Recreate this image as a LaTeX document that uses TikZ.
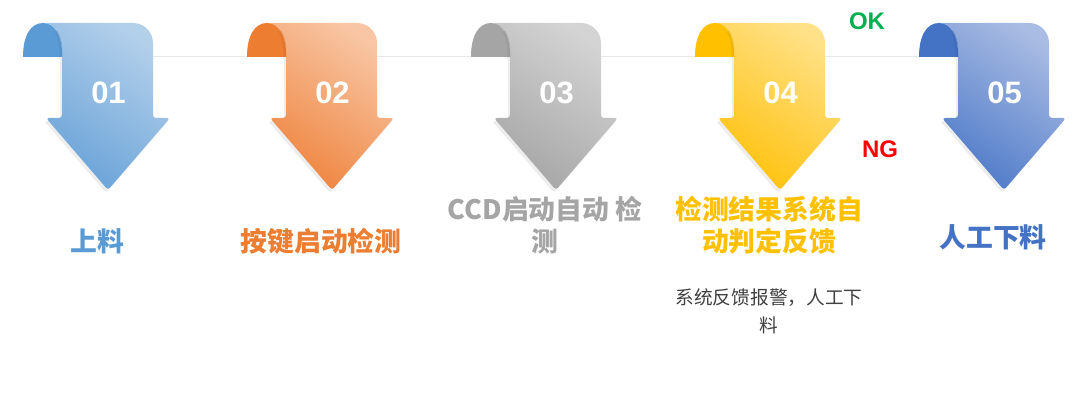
\documentclass[tikz,border=0pt]{standalone}
\usepackage{fontspec}
\setmainfont{Liberation Sans}
\newfontfamily\cjk{Noto Sans CJK SC}
\definecolor{cA}{HTML}{5B9BD5}\definecolor{cAd}{HTML}{6AA3D8}\definecolor{cAl}{HTML}{B3D0EB}
\definecolor{cB}{HTML}{ED7D31}\definecolor{cBd}{HTML}{EF8540}\definecolor{cBl}{HTML}{F8C6A4}
\definecolor{cC}{HTML}{A5A5A5}\definecolor{cCd}{HTML}{A6A6A6}\definecolor{cCl}{HTML}{D4D4D4}
\definecolor{cD}{HTML}{FFC000}\definecolor{cDd}{HTML}{FFC20E}\definecolor{cDl}{HTML}{FFE187}
\definecolor{cE}{HTML}{4472C4}\definecolor{cEd}{HTML}{4F7BC9}\definecolor{cEl}{HTML}{A9BCE3}
\definecolor{okgreen}{HTML}{00B050}
\definecolor{nored}{HTML}{FF0000}
\definecolor{guide}{HTML}{E8E8E8}
\definecolor{smalltxt}{HTML}{404040}
\tikzset{
  numlabel/.style={text=white,font=\bfseries\fontsize{31}{31}\selectfont,inner sep=0pt},
  steplabel/.style={font=\cjk\bfseries\fontsize{26.8}{32}\selectfont,align=center,inner sep=0pt},
  notelabel/.style={text=smalltxt,font=\cjk\fontsize{18.7}{28}\selectfont,align=center,inner sep=0pt},
  flaglabel/.style={font=\bfseries\fontsize{24}{24}\selectfont,inner sep=0pt},
}
% #1 x offset, #2 curl colour, #3 dark, #4 light, #5 number, #6 name
\newcommand\flowarrow[6]{%
  \begin{scope}[shift={(#1,23)}]
    % shadow
    \fill[black,opacity=0.07,shift={(-2,3)}] (20,0) -- (110,0) arc[start angle=-90,end angle=0,radius=20]
      [rounded corners=3] -- (130,95) -- (147,95) -- (85,167) -- (23,95) -- (39,95)[sharp corners] -- (39,34) -- cycle;
    % body
    \shade[top color=#4,bottom color=#3,shading angle=-35]
      (20,0) -- (110,0) arc[start angle=-90,end angle=0,radius=20]
      [rounded corners=3] -- (130,95) -- (147,95) -- (85,167) -- (23,95) -- (39,95)[sharp corners]
      -- (39,30) .. controls (39,14) and (32,0) .. (20,0) -- cycle;
    % curl
    \fill[#2] (0,34) .. controls (0,12) and (8,0) .. (20,0) .. controls (32,0) and (39,14) .. (39,30) -- (39,34) -- cycle;
    \draw[#2!80!black,opacity=0.25,line width=3] (33,8) .. controls (37,15) and (38,22) .. (38,34);
    \node[numlabel] (#6) at (85.5,70) {#5};
  \end{scope}}
\begin{document}
\begin{tikzpicture}[x=1pt,y=-1pt]
\useasboundingbox (0,0) rectangle (1090,414);
\fill[white] (0,0) rectangle (1090,414);
\coordinate (gl) at (40,57);
\coordinate (gr) at (940,57);
\draw[guide,line width=1] (gl) -- (gr);
\flowarrow{23}{cA}{cAd}{cAl}{01}{n1}
\flowarrow{247}{cB}{cBd}{cBl}{02}{n2}
\flowarrow{471}{cC}{cCd}{cCl}{03}{n3}
\flowarrow{695}{cD}{cDd}{cDl}{04}{n4}
\flowarrow{919}{cE}{cEd}{cEl}{05}{n5}
\node[steplabel,text=cA] (t1) at (97,241) {上料};
\node[steplabel,text=cB] (t2) at (321,241) {按键启动检测};
\node[steplabel,text=cC] (t3) at (545,225) {CCD启动自动 检\\测};
\node[steplabel,text=cD] (t4) at (769,225) {检测结果系统自\\动判定反馈};
\node[steplabel,text=cE] (t5) at (993,237) {人工下料};
\node[notelabel] (t6) at (769,311) {系统反馈报警，人工下\\料};
\node[flaglabel,text=okgreen] (ok) at (867,21) {OK};
\node[flaglabel,text=nored] (ng) at (880,149) {NG};
\end{tikzpicture}
\end{document}
